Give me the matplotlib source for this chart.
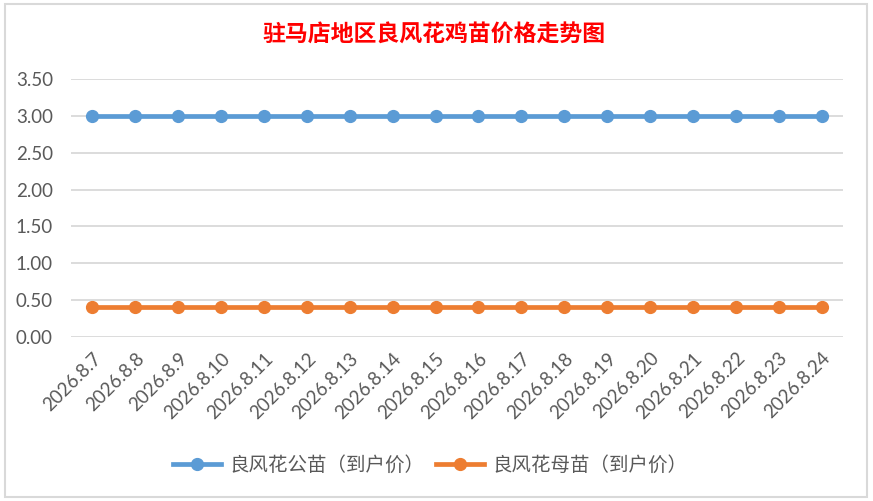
import matplotlib
matplotlib.use("Agg")
import matplotlib.pyplot as plt
from matplotlib.patches import Rectangle
from matplotlib.ticker import FormatStrFormatter

plt.rcParams['font.family'] = ['Lato', 'Noto Sans CJK SC', 'DejaVu Sans']

# data
dates = ["2026.8.7", "2026.8.8", "2026.8.9", "2026.8.10", "2026.8.11", "2026.8.12",
         "2026.8.13", "2026.8.14", "2026.8.15", "2026.8.16", "2026.8.17", "2026.8.18",
         "2026.8.19", "2026.8.20", "2026.8.21", "2026.8.22", "2026.8.23", "2026.8.24"]
male_price = [3.0] * 18
female_price = [0.41] * 18
series_names = ["良风花公苗（到户价）", "良风花母苗（到户价）"]
title = "驻马店地区良风花鸡苗价格走势图"
yticks = [0.0, 0.5, 1.0, 1.5, 2.0, 2.5, 3.0, 3.5]

W, H = 873, 501
fig = plt.figure(figsize=(W / 100, H / 100), dpi=100)

# chart frame (Excel style), kept behind the axes
fig.patches.append(Rectangle((5 / W, 4 / H), 862 / W, 493 / H, transform=fig.transFigure,
                             facecolor="white", edgecolor="#D9D9D9", linewidth=1.5,
                             zorder=-10))

ax = fig.add_axes([71 / W, 1 - 337 / H, (843 - 71) / W, (337 - 79) / H])
ax.set_facecolor("none")

x = list(range(len(dates)))
ax.plot(x, male_price, color="#5B9BD5", linewidth=3.4, marker="o", markersize=8.5,
        label=series_names[0], zorder=3)
ax.plot(x, female_price, color="#ED7D31", linewidth=3.4, marker="o", markersize=8.5,
        label=series_names[1], zorder=3)

ax.set_xlim(-0.5, len(dates) - 0.5)
ax.set_ylim(0, 3.5)
ax.set_yticks(yticks)
ax.yaxis.set_major_formatter(FormatStrFormatter("%.2f"))
ax.grid(axis="y", color="#D9D9D9", linewidth=1.3)
ax.set_axisbelow(True)
for s in ax.spines.values():
    s.set_visible(False)
ax.tick_params(axis="both", length=0, labelsize=13.5, labelcolor="#595959")
ax.tick_params(axis="y", pad=13)
ax.tick_params(axis="x", pad=9)
ax.set_xticks(x)
ax.set_xticklabels(dates, rotation=45, ha="right", rotation_mode="anchor")

fig.text(434 / W, 1 - 35 / H, title, ha="center", va="center", color="#FF0000",
         fontsize=16.5, fontweight="bold", family=["Noto Sans CJK SC", "DejaVu Sans"])

leg = fig.legend(loc="center", bbox_to_anchor=(430 / W, 1 - 465 / H), ncol=2, frameon=False,
                 handlelength=2.5, columnspacing=0.6, handletextpad=0.4,
                 prop={"family": ["Noto Sans CJK SC", "DejaVu Sans"], "size": 14})
for t in leg.get_texts():
    t.set_color("#595959")

fig.savefig("out.png", dpi=100)
